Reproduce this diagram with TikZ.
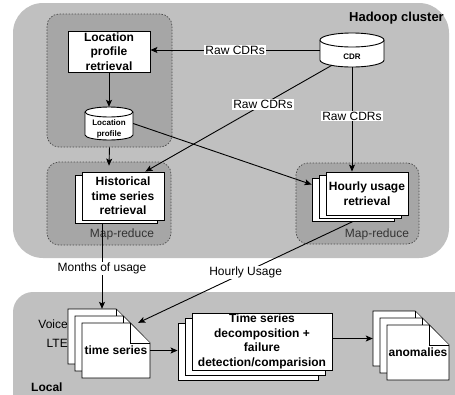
\documentclass[tikz,border=0pt]{standalone}
\usepackage{fontspec}
\setmainfont{Liberation Sans}
\usetikzlibrary{arrows.meta,calc}

\definecolor{clustergray}{RGB}{192,192,192}
\definecolor{mrgray}{RGB}{166,166,166}

% drum: centre x, centre y, half width, half height, cap radius
\newcommand{\drum}[5]{%
  \draw[shapeline] ({#1-#3},{#2-#4+#5}) -- ({#1-#3},{#2+#4-#5})
    arc[start angle=180,end angle=0,x radius=#3,y radius=#5]
    -- ({#1+#3},{#2-#4+#5})
    arc[start angle=0,end angle=-180,x radius=#3,y radius=#5] -- cycle;
  \draw[shapeline] ({#1-#3},{#2-#4+#5})
    arc[start angle=180,end angle=0,x radius=#3,y radius=#5];}
% sheet with dog-ear: x1, y1, x2, y2
\newcommand{\docpage}[4]{%
  \draw[shapeline] (#1,#2) -- ({#3-20},#2) -- (#3,{#2+20}) -- (#3,#4) -- (#1,#4) -- cycle;
  \draw[shapeline] ({#3-20},#2) -- ({#3-20},{#2+20}) -- (#3,{#2+20});}

\tikzset{
  shapeline/.style={draw=black, fill=white, line width=0.9pt},
  mrgroup/.style={draw=black!70, fill=mrgray, dash pattern=on 1.5pt off 1.5pt,
    line width=0.7pt, rounded corners=12pt, inner sep=0},
  procbox/.style={shapeline, align=center, inner sep=0,
    font=\bfseries\fontsize{12}{14.5}\selectfont},
  anchorbox/.style={inner sep=0},
  boldtext/.style={inner sep=0, align=center, font=\bfseries\fontsize{12}{14.5}\selectfont},
  smalltext/.style={inner sep=0, align=center, font=\bfseries\fontsize{8}{11}\selectfont},
  plaintext/.style={inner sep=0, font=\fontsize{12}{14}\selectfont},
  flowlabel/.style={fill=white, inner sep=1pt, font=\fontsize{12}{14}\selectfont},
  flow/.style={-{Stealth[length=7pt,width=6pt,inset=1.5pt]}, line width=0.9pt},
}

\begin{document}
\begin{tikzpicture}[x=1pt,y=1pt,yscale=-1,xscale=1]
\useasboundingbox (0,0) rectangle (455,394);
\clip (0,0) rectangle (455,394);
% Background areas
\fill[clustergray, rounded corners=30pt] (13,3) rectangle (449,258);
\fill[clustergray, rounded corners=20pt] (13,292) rectangle (490,430);
\node[boldtext, anchor=east, font=\bfseries\fontsize{13}{15}\selectfont] (hadoopLabel) at (444,18) {Hadoop cluster};
\node[boldtext, anchor=west] (localLabel) at (31,387) {Local};
% Map-reduce groups
\node[mrgroup, minimum width=125, minimum height=133] (grpA) at (109.5,80.5) {};
\node[mrgroup, minimum width=124, minimum height=83] (grpB) at (109,203.5) {};
\node[mrgroup, minimum width=123, minimum height=81] (grpC) at (357.5,203.5) {};
\node[plaintext, text=black!80] (mrLeft) at (122,234) {Map-reduce};
\node[plaintext, text=black!80] (mrRight) at (377,234) {Map-reduce};
% Location profile retrieval
\node[procbox, minimum width=82, minimum height=41] (lpr) at (109,51.5) {Location\\profile\\retrieval};
\drum{109}{123.5}{24}{16.5}{5}
\node[anchorbox, minimum width=48, minimum height=33] (lp) at (109,123.5) {};
\node[smalltext] (lpLabel) at (109,128.5) {Location\\profile};
% CDR store
\drum{352}{50}{32}{17}{7}
\node[anchorbox, minimum width=64, minimum height=34] (cdr) at (352,50) {};
\node[smalltext] (cdrLabel) at (352,57) {CDR};
% Historical time series retrieval
\node[procbox, minimum width=82, minimum height=48] (histBack) at (116,199) {};
\node[procbox, minimum width=82, minimum height=48] (hist) at (123,196) {Historical\\time series\\retrieval};
% Hourly usage retrieval
\node[procbox, minimum width=82, minimum height=43] (hourBack) at (353,199.5) {};
\node[procbox, minimum width=82, minimum height=43] (hourMid) at (360,196.5) {};
\node[procbox, minimum width=82, minimum height=43] (hour) at (367,193.5) {Hourly usage\\retrieval};
% Time series sheets
\docpage{68}{309}{136}{364}
\node[anchorbox, minimum width=68, minimum height=55] (tsVoice) at (102,336.5) {};
\docpage{75}{316}{143}{371}
\node[anchorbox, minimum width=68, minimum height=55] (tsLte) at (109,343.5) {};
\docpage{82}{323}{150}{378}
\node[boldtext, minimum width=68, minimum height=55] (ts) at (116,350.5) {time series};
\node[plaintext, anchor=east] (voiceLabel) at (68,324) {Voice};
\node[plaintext, anchor=east] (lteLabel) at (68,343) {LTE};
% Decomposition and detection
\node[procbox, minimum width=140, minimum height=57] (decBack) at (248,351.5) {};
\node[procbox, minimum width=140, minimum height=57] (decMid) at (255,346.5) {};
\node[procbox, minimum width=140, minimum height=57] (dec) at (262,341.5) {Time series\\decomposition +\\failure\\detection/comparision};
% Anomaly sheets
\docpage{373}{311}{435}{366}
\node[anchorbox, minimum width=62, minimum height=55] (anomBack) at (404,338.5) {};
\docpage{380}{318}{442}{373}
\node[anchorbox, minimum width=62, minimum height=55] (anomMid) at (411,345.5) {};
\docpage{387}{325}{449}{380}
\node[boldtext, minimum width=62, minimum height=55] (anom) at (418,352.5) {anomalies};
% Connectors
\draw[flow] (cdr.west) -- node[flowlabel]{Raw CDRs} (cdr.west -| lpr.east);
\draw[flow] ($(cdr.south)+(-20,-2)$) -- node[flowlabel, pos=0.37]{Raw CDRs} ($(hist.north east)+(-19,0)$);
\draw[flow] (cdr.south) -- node[flowlabel, pos=0.47]{Raw CDRs} (cdr.south |- hour.north);
\draw[flow] (lpr.south) -- (lp.north);
\draw[flow] (lp.east) -- ($(hourBack.west)+(0,-15)$);
\draw[flow] (grpA.south) -- ($(grpB.north)+(0,4)$);
\draw[flow] (tsVoice.north |- histBack.south) -- node[flowlabel, pos=0.53]{Months of usage} (tsVoice.north);
\draw[flow] (hourBack.south) -- node[flowlabel, pos=0.5]{Hourly Usage} ($(ts.north east)+(-12,0)$);
\draw[flow] (ts.east) -- (ts.east -| decBack.west);
\draw[flow] (anomBack.west -| dec.east) -- (anomBack.west);
\end{tikzpicture}
\end{document}
